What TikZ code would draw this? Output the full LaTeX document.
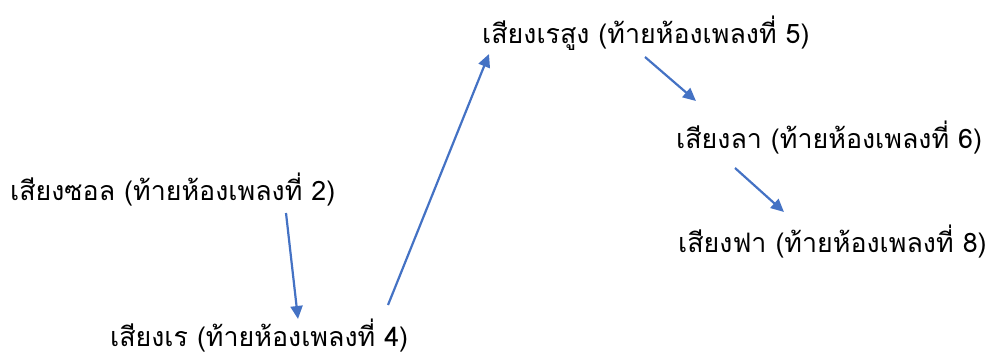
\documentclass[tikz,border=0pt]{standalone}
\usepackage{fontspec}
\newfontfamily\thaifont[Script=Thai]{Loma}
\usetikzlibrary{arrows.meta}
\definecolor{arrowblue}{HTML}{4472C4}
\tikzset{
  lbl/.style={anchor=west, inner sep=0pt, font=\thaifont\fontsize{26.8}{30}\selectfont},
  conn/.style={draw=arrowblue, line width=2.2pt, -{Triangle[length=13pt,width=12pt]}}
}
\begin{document}
\begin{tikzpicture}[x=1pt,y=-1pt]
\useasboundingbox (0,0) rectangle (986,358);
\node[lbl] (sol) at (10,190) {เสียงซอล (ท้ายห้องเพลงที่ 2)};
\node[lbl] (re) at (110,336) {เสียงเร (ท้ายห้องเพลงที่ 4)};
\node[lbl] (resung) at (482,33) {เสียงเรสูง (ท้ายห้องเพลงที่ 5)};
\node[lbl] (la) at (676,138) {เสียงลา (ท้ายห้องเพลงที่ 6)};
\node[lbl] (fa) at (678,242) {เสียงฟา (ท้ายห้องเพลงที่ 8)};
\coordinate (a1s) at (286,213);
\coordinate (a1e) at (298,319);
\coordinate (a2s) at (388,305);
\coordinate (a2e) at (489,54);
\coordinate (a3s) at (645,57);
\coordinate (a3e) at (696,101);
\coordinate (a4s) at (735,168);
\coordinate (a4e) at (784,212);
\draw[conn] (a1s) -- (a1e);
\draw[conn] (a2s) -- (a2e);
\draw[conn] (a3s) -- (a3e);
\draw[conn] (a4s) -- (a4e);
\end{tikzpicture}
\end{document}
